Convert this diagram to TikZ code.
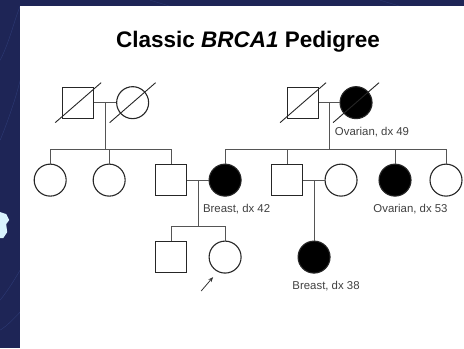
\documentclass[tikz,border=0pt]{standalone}
\usepackage{fontspec}
\setmainfont{Liberation Sans}
\usetikzlibrary{arrows.meta,calc}
\definecolor{slidebg}{RGB}{30,37,86}
\definecolor{slideline}{RGB}{60,80,150}
\definecolor{linegray}{RGB}{85,85,85}
\tikzset{
  male/.style={draw=black!85, rectangle, minimum size=31pt, inner sep=0pt, line width=1.1pt},
  female/.style={draw=black!85, circle, minimum size=32pt, inner sep=0pt, line width=1.1pt},
  affected/.style={fill=black},
  rel/.style={draw=linegray, line width=0.9pt},
  dx/.style={font=\fontsize{11.4}{13}\selectfont, text=black!75, anchor=base},
}
% slash through a deceased symbol
\newcommand{\deceased}[1]{\draw[black!85, line width=0.9pt] ([shift={(-23,20)}]#1.center) -- ([shift={(23,-20)}]#1.center);}

\begin{document}
\begin{tikzpicture}[x=1pt,y=-1pt]
    % slide background
    \fill[slidebg] (0,0) rectangle (464,348);
    \draw[slideline, opacity=0.5] (0,60) .. controls (10,40) and (14,20) .. (20,6);
    \draw[slideline, opacity=0.5] (0,140) .. controls (8,120) and (15,100) .. (20,80);
    \draw[slideline, opacity=0.5] (0,300) .. controls (8,290) and (14,280) .. (20,270);
    \draw[slideline, opacity=0.5] (0,330) .. controls (8,325) and (14,318) .. (20,312);
    \draw[slideline, opacity=0.4] (150,0) .. controls (160,3) .. (170,6);
    \draw[slideline, opacity=0.4] (380,0) .. controls (390,3) .. (400,6);
    \fill[cyan!15] (0,212) -- (6,214) -- (9,220) -- (6,224) -- (7,232) -- (3,238) -- (0,238) -- cycle;
    \fill[white] (20,6) rectangle (464,348);
    \useasboundingbox (0,0) rectangle (464,348);

    \node[font=\fontsize{22.5}{26}\selectfont\bfseries, anchor=base] (title) at (248,47) {Classic \textit{BRCA1} Pedigree};

    % generation I
    \node[male] (gf1) at (78,102.5) {};
    \node[female] (gm1) at (132.5,102.5) {};
    \node[male] (gf2) at (303,102.5) {};
    \node[female, affected] (gm2) at (356,102.5) {};
    \deceased{gf1} \deceased{gm1} \deceased{gf2} \deceased{gm2}
    \node[dx] (l1) at (372,135) {Ovarian, dx 49};

    % generation II
    \node[female] (a1) at (50,180) {};
    \node[female] (a2) at (109,180) {};
    \node[male] (a3) at (171,180) {};
    \node[female, affected] (a4) at (225,180) {};
    \node[male] (a5) at (287,180) {};
    \node[female] (a6) at (341,180) {};
    \node[female, affected] (a7) at (395,180) {};
    \node[female] (a8) at (446,180) {};
    \node[dx] (l2) at (236.5,212) {Breast, dx 42};
    \node[dx] (l3) at (410.5,212) {Ovarian, dx 53};

    % generation III
    \node[male] (b1) at (171,257) {};
    \node[female] (b2) at (225,257) {};
    \node[female, affected] (b3) at (314,257) {};
    \node[dx] (l4) at (326,289) {Breast, dx 38};
    \draw[-{Stealth[length=5pt,width=4pt]}, black!80, line width=0.8pt] ([shift={(-24,34)}]b2.center) -- ([shift={(-12,20)}]b2.center);

    % couples
    \draw[rel] (gf1) -- (gm1);
    \draw[rel] (gf2) -- (gm2);
    \draw[rel] (a3) -- (a4);
    \draw[rel] (a5) -- (a6);
    \coordinate (m1) at ($(gf1)!0.5!(gm1)$);
    \coordinate (m2) at ($(gf2)!0.5!(gm2)$);
    \coordinate (m3) at ($(a3)!0.5!(a4)$);
    \coordinate (m4) at ($(a5)!0.5!(a6)$);
    \coordinate (s1) at (m1 |- 0,149);
    \coordinate (s2) at (m2 |- 0,149);
    \coordinate (s3) at (m3 |- 0,226);

    % lines of descent
    \draw[rel] (m1) -- (s1);
    \draw[rel] (a1.north) |- (s1) -| (a3.north);
    \draw[rel] (a2.north) -- (a2.north |- s1);
    \draw[rel] (m2) -- (s2);
    \draw[rel] (a4.north) |- (s2) -| (a8.north);
    \draw[rel] (a5.north) -- (a5.north |- s2);
    \draw[rel] (a7.north) -- (a7.north |- s2);
    \draw[rel] (m3) -- (s3);
    \draw[rel] (b1.north) |- (s3) -| (b2.north);
    \draw[rel] (m4) -- (b3.north);
\end{tikzpicture}
\end{document}
